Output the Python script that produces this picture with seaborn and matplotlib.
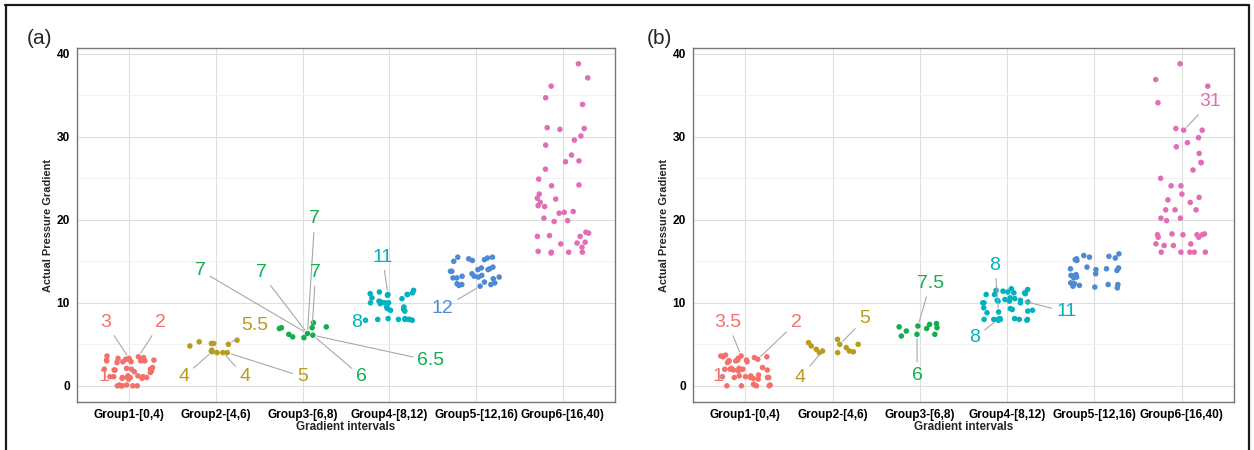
"""Jittered strip plots of actual pressure gradient by gradient interval, two panels (a)/(b)"""

import numpy as np
import pandas as pd
import matplotlib
matplotlib.use('Agg')
import matplotlib.pyplot as plt
from matplotlib.lines import Line2D
from matplotlib.ticker import MultipleLocator
import seaborn as sns

# ---- data ----
groups = ['Group1-[0,4)', 'Group2-[4,6)', 'Group3-[6,8)',
          'Group4-[8,12)', 'Group5-[12,16)', 'Group6-[16,40)']
colors = ['#F4716B', '#B89C1E', '#13AD4E', '#00B2BF', '#4E8AD3', '#E26CB6']

# panel (a)
a_g1 = [3.6, 3.4, 3.2, 3.0, 3.1, 2.9, 3.3, 3.0, 2.8, 3.2, 3.5, 3.0, 2.9, 3.1, 3.3,
        2.0, 1.9, 2.1, 1.8, 2.0, 1.7, 2.2, 1.9, 2.0, 1.6,
        1.1, 1.0, 0.9, 1.2, 1.0, 1.1, 0.8, 1.0, 1.2, 0.9, 1.0, 1.1,
        0.1, 0.0, 0.0, 0.1, 0.0, 0.0, 0.0]
a_g2 = [5.1, 4.0, 4.2, 5.5, 5.3, 5.0, 4.3, 4.1, 4.0, 4.0, 5.1, 4.8]
a_g3 = [7.0, 7.6, 5.8, 6.1, 7.1, 7.0, 6.9, 5.9, 6.3, 6.2]
a_g4 = [11.5, 11.2, 11.0, 11.0, 11.0, 11.1, 11.3, 10.9, 10.5, 10.0, 10.0, 10.1, 9.9,
        10.2, 10.6, 10.0, 9.5, 9.2, 9.0, 9.1, 9.3, 9.5, 8.0, 8.0, 8.1, 7.9, 7.9,
        8.0, 8.0, 8.1, 8.0]
a_g5 = [15.4, 15.5, 15.2, 15.0, 15.3, 15.5, 15.1, 14.2, 14.0, 14.3, 14.1, 13.8, 13.5,
        13.2, 13.0, 13.1, 13.3, 12.9, 13.1, 13.0, 13.2, 12.5, 12.3, 12.2, 12.0, 12.1,
        12.2, 12.4, 13.8, 14.0]
a_g6 = [38.8, 37.1, 36.1, 34.7, 33.9, 31.0, 31.1, 30.9, 29.6, 30.1, 29.0, 27.8, 27.1,
        27.0, 26.1, 24.9, 24.1, 24.2, 23.1, 22.6, 22.5, 22.1, 21.6, 21.7, 20.9, 21.0,
        20.8, 20.2, 19.8, 19.9, 18.5, 18.4, 18.1, 18.0, 18.0, 17.3, 17.1, 17.2, 16.7,
        16.1, 16.1, 16.2, 16.0, 16.1]

# panel (b)
b_g1 = [3.7, 3.5, 3.6, 3.4, 3.5, 3.3, 3.6, 3.0, 3.1, 2.9, 3.0, 3.2, 2.8, 3.0, 3.1,
        2.1, 2.0, 1.9, 2.2, 2.0, 1.8, 2.1, 2.0, 1.9,
        1.1, 1.0, 1.2, 0.9, 1.0, 1.3, 1.1, 0.8, 1.0, 1.2, 1.0,
        0.1, 0.0, 0.2, 0.0, 0.1, 0.0, 0.0]
b_g2 = [5.6, 5.2, 5.0, 4.2, 5.0, 4.6, 4.4, 4.2, 4.0, 4.0, 4.8, 4.1]
b_g3 = [7.2, 6.2, 7.1, 7.4, 7.5, 6.9, 6.6, 6.2, 6.0, 7.0]
b_g4 = [11.7, 11.5, 11.3, 11.2, 11.0, 11.1, 11.4, 11.6, 11.2, 11.0, 10.5, 10.3, 10.0,
        10.2, 10.4, 10.1, 10.0, 10.6, 10.2, 10.0, 10.3, 9.3, 9.0, 9.2, 8.9, 9.1, 8.8,
        9.4, 8.0, 8.0, 8.1, 7.9, 8.0, 8.0, 8.1, 7.9, 8.0, 8.0]
b_g5 = [15.9, 15.5, 15.3, 15.7, 15.4, 15.1, 15.6, 15.2, 14.2, 14.0, 14.1, 13.9, 14.3,
        14.1, 13.5, 13.2, 13.0, 13.4, 13.1, 13.3, 12.4, 12.2, 12.0, 11.9, 12.3, 12.1,
        12.2, 11.8]
b_g6 = [38.8, 36.9, 36.1, 34.1, 31.0, 30.8, 30.8, 29.9, 29.3, 28.8, 28.0, 26.9, 26.9,
        26.0, 25.0, 24.1, 24.1, 23.1, 22.7, 22.4, 22.1, 21.2, 21.2, 21.2, 20.2, 20.2,
        19.9, 18.3, 18.3, 18.2, 18.2, 18.2, 18.2, 17.9, 17.9, 17.1, 17.1, 16.9, 16.9,
        16.1, 16.1, 16.1, 16.1, 16.1]

# point labels: (text, group index)
a_labels = [('3', 0), ('2', 0), ('1', 0), ('5.5', 1), ('4', 1), ('4', 1), ('5', 1),
            ('7', 2), ('7', 2), ('7', 2), ('7', 2), ('6', 2), ('6.5', 2),
            ('11', 3), ('8', 3), ('12', 4)]
b_labels = [('3.5', 0), ('2', 0), ('1', 0), ('5', 1), ('4', 1), ('7.5', 2), ('6', 2),
            ('8', 3), ('8', 3), ('11', 3), ('31', 5)]

# label layout: (point near x, point near y, text x, text y)
a_label_pos = [(-0.02, 3.6, -0.27, 7.6), (0.1, 3.5, 0.36, 7.6), (-0.2, 1.3, -0.29, 1.1),
               (1.1, 5.3, 1.45, 7.3), (0.93, 4.0, 0.63, 1.1), (1.1, 4.0, 1.34, 1.1),
               (1.2, 4.1, 2.0, 1.1), (2.0, 7.0, 2.14, 20.1), (1.95, 7.0, 0.82, 13.9),
               (1.98, 7.1, 1.52, 13.6), (2.02, 7.0, 2.15, 13.6), (2.1, 5.9, 2.68, 1.1),
               (2.15, 5.8, 3.48, 3.0), (3.0, 11.0, 2.92, 15.5), (2.75, 8.0, 2.62, 7.6),
               (3.95, 12.0, 3.61, 9.3)]
b_label_pos = [(-0.05, 3.7, -0.2, 7.6), (0.17, 3.3, 0.58, 7.6), (-0.2, 1.2, -0.31, 1.1),
               (1.1, 5.0, 1.37, 8.1), (0.93, 4.2, 0.63, 1.0), (2.0, 7.5, 2.12, 12.3),
               (1.98, 6.2, 1.97, 1.3), (2.95, 9.0, 2.86, 14.5), (2.9, 8.0, 2.63, 5.8),
               (3.15, 10.3, 3.68, 8.9), (5.05, 30.9, 5.33, 34.2)]


def make_frame(values):
    rows = []
    for g, vals in zip(groups, values):
        rows += [(g, v) for v in vals]
    return pd.DataFrame(rows, columns=['interval', 'gradient'])


def draw_panel(ax, df, labels, label_pos):
    sns.stripplot(data=df, x='interval', y='gradient', hue='interval',
                  order=groups, hue_order=groups, palette=colors, jitter=0.3,
                  size=4, linewidth=0, legend=False, ax=ax)
    ax.set_xlim(-0.6, 5.6)
    ax.set_ylim(-1.95, 40.7)
    ax.yaxis.set_major_locator(MultipleLocator(10))
    ax.yaxis.set_minor_locator(MultipleLocator(5))
    ax.set_axisbelow(True)
    ax.grid(which='major', color='#DEDEDE', lw=0.8)
    ax.grid(which='minor', axis='y', color='#EFEFEF', lw=0.6)
    ax.tick_params(which='minor', length=0)
    ax.tick_params(which='major', length=3, width=0.8, color='#333333', pad=2,
                   labelsize=8.6, labelcolor='black')
    for lbl in ax.get_xticklabels() + ax.get_yticklabels():
        lbl.set_fontweight('bold')
    for sp in ax.spines.values():
        sp.set_color('#777777')
        sp.set_linewidth(1.0)
    ax.set_xlabel('Gradient intervals', fontsize=8.4, fontweight='bold', labelpad=0)
    ax.set_ylabel('Actual Pressure Gradient', fontsize=7.9, fontweight='bold', labelpad=3)

    # labels pointing to the nearest drawn point of each group
    for (txt, g), (px, py, tx, ty) in zip(labels, label_pos):
        pts = ax.collections[g].get_offsets()
        d = (pts[:, 0] - px) ** 2 + ((pts[:, 1] - py) / 8.0) ** 2
        x0, y0 = pts[np.argmin(d)]
        ax.annotate(txt, xy=(x0, y0), xytext=(tx, ty), ha='center', va='center',
                    fontsize=14, color=colors[g],
                    arrowprops=dict(arrowstyle='-', color='#A8A8A8', lw=0.8,
                                    shrinkA=1, shrinkB=3))


sns.set_style('white')
plt.rcParams['font.family'] = ['Liberation Sans', 'DejaVu Sans']
np.random.seed(7)

fig = plt.figure(figsize=(12.54, 4.5), dpi=100)
ax_a = fig.add_axes([77 / 1254, 1 - 402 / 450, 538 / 1254, 354 / 450])
ax_b = fig.add_axes([693 / 1254, 1 - 402 / 450, 541 / 1254, 354 / 450])

draw_panel(ax_a, make_frame([a_g1, a_g2, a_g3, a_g4, a_g5, a_g6]), a_labels, a_label_pos)
draw_panel(ax_b, make_frame([b_g1, b_g2, b_g3, b_g4, b_g5, b_g6]), b_labels, b_label_pos)

fig.text(27 / 1254, 1 - 38 / 450, '(a)', fontsize=15, va='center', ha='left')
fig.text(647 / 1254, 1 - 38 / 450, '(b)', fontsize=15, va='center', ha='left')

# outer frame
for xs, ys in [([5 / 1254, 1249 / 1254], [1 - 5 / 450] * 2),
               ([6 / 1254] * 2, [0, 1 - 5 / 450]),
               ([1249 / 1254] * 2, [0, 1 - 5 / 450])]:
    fig.add_artist(Line2D(xs, ys, color='#1A1A1A', lw=1.6))

fig.savefig('out.png', dpi=100)
